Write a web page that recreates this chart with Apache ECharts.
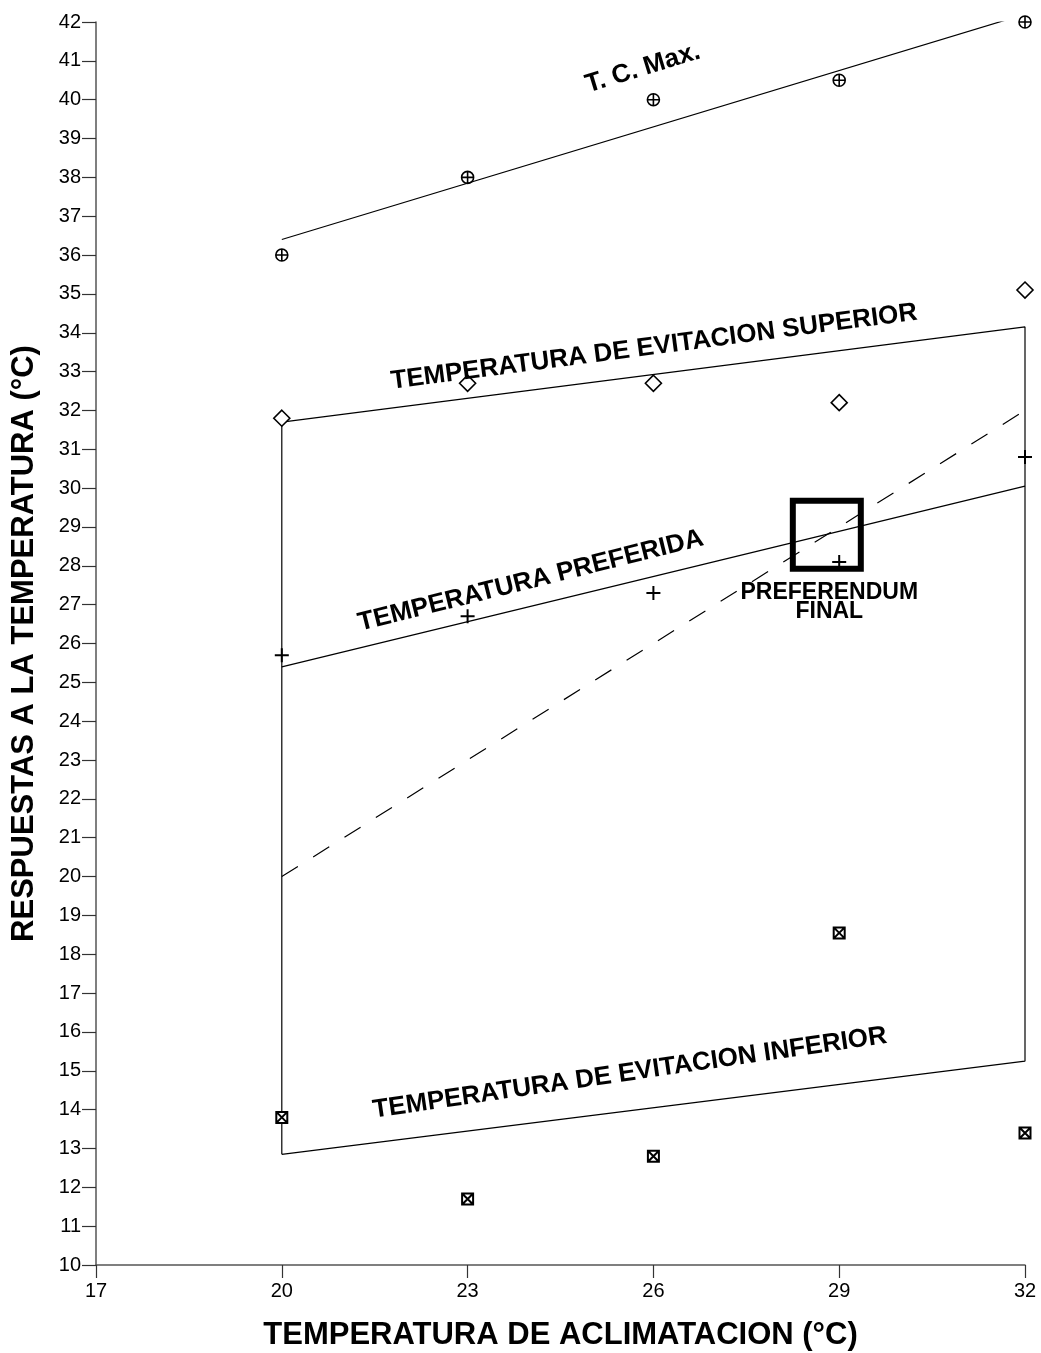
<!DOCTYPE html>
<html>
<head>
<meta charset="utf-8">
<script src="https://cdn.jsdelivr.net/npm/echarts@6/dist/echarts.min.js"></script>
<style>
html,body{margin:0;padding:0;background:#fff;}
#chart{width:1041px;height:1353px;}
</style>
</head>
<body>
<div id="chart"></div>
<script>
// ---- data ----
const acclimation = [20, 23, 26, 29, 32];
const tcMax       = [36, 38, 40, 40.5, 42];
const upperAvoid  = [31.8, 32.7, 32.7, 32.2, 35.1];
const preferred   = [25.7, 26.7, 27.3, 28.1, 30.8];
const lowerAvoid  = [13.8, 11.7, 12.8, 18.55, 13.4];

// fitted lines (endpoints)
const tcMaxLine   = [[20, 36.4], [32, 42.2]];
const prefLine    = [[20, 25.4], [32, 30.05]];
const zoneOutline = [[20, 12.85], [20, 31.7], [32, 34.15], [32, 15.25], [20, 12.85]];
const identityLine = [[20, 20], [32, 32]];
const finalPreferendum = [[28.8, 28.8]];

const xTicks = {min: 17, max: 32, interval: 3};
const yTicks = {min: 10, max: 42, interval: 1};

const FONT = "'Liberation Sans', Arial, Helvetica, sans-serif";

function pairs(ys){ return acclimation.map((x,i)=>[x, ys[i]]); }

const chart = echarts.init(document.getElementById('chart'));

const symCirclePlus = 'path://M0,-10A10,10,0,1,1,0,10A10,10,0,1,1,0,-10ZM-10,0L10,0M0,-10L0,10';
const symPlus = 'path://M-10,0L10,0M0,-10L0,10';
const symBoxX = 'path://M-10,-10L10,-10L10,10L-10,10ZM-10,-10L10,10M10,-10L-10,10';

const lineStyleBase = {color: '#000', width: 1.2};

chart.setOption({
  animation: false,
  backgroundColor: '#fff',
  grid: {left: 96, right: 16, top: 22, bottom: 88, containLabel: false, outerBoundsMode: 'none'},
  xAxis: {
    type: 'value', min: xTicks.min, max: xTicks.max, interval: xTicks.interval,
    name: 'TEMPERATURA DE ACLIMATACION (°C)', nameLocation: 'middle', nameGap: 55,
    nameTextStyle: {fontFamily: FONT, fontWeight: 'bold', fontSize: 31, color: '#000'},
    axisLine: {show: true, onZero: false, lineStyle: {color: '#555', width: 1.5}},
    axisTick: {show: true, inside: false, length: 13, lineStyle: {color: '#333', width: 1.2}},
    axisLabel: {margin: 16, fontFamily: FONT, fontSize: 20, color: '#000'},
    splitLine: {show: false}
  },
  yAxis: {
    type: 'value', min: yTicks.min, max: yTicks.max, interval: yTicks.interval,
    name: 'RESPUESTAS A LA TEMPERATURA (°C)', nameLocation: 'middle', nameGap: 56,
    nameTextStyle: {fontFamily: FONT, fontWeight: 'bold', fontSize: 31, color: '#000'},
    axisLine: {show: true, onZero: false, lineStyle: {color: '#555', width: 1.5}},
    axisTick: {show: true, inside: false, length: 14, lineStyle: {color: '#333', width: 1.2}},
    axisLabel: {margin: 15, fontFamily: FONT, fontSize: 20, color: '#000'},
    splitLine: {show: false}
  },
  series: [
    {type: 'line', data: zoneOutline, symbol: 'none', lineStyle: lineStyleBase, z: 2},
    {type: 'line', data: tcMaxLine, symbol: 'none', lineStyle: lineStyleBase, z: 2},
    {type: 'line', data: prefLine, symbol: 'none', lineStyle: lineStyleBase, z: 2},
    {type: 'line', data: identityLine, symbol: 'none', lineStyle: {color: '#000', width: 1.2, type: [19, 18]}, z: 2},
    {type: 'scatter', data: pairs(tcMax), symbol: symCirclePlus, symbolSize: 12,
      itemStyle: {color: 'rgba(0,0,0,0)', borderColor: '#000', borderWidth: 1.6, opacity: 1}, z: 5},
    {type: 'scatter', data: pairs(upperAvoid), symbol: 'diamond', symbolSize: 16,
      itemStyle: {color: '#fff', borderColor: '#000', borderWidth: 1.6, opacity: 1}, z: 5},
    {type: 'scatter', data: pairs(preferred), symbol: symPlus, symbolSize: 14,
      itemStyle: {color: 'rgba(0,0,0,0)', borderColor: '#000', borderWidth: 2, opacity: 1}, z: 5},
    {type: 'scatter', data: pairs(lowerAvoid), symbol: symBoxX, symbolSize: 11,
      itemStyle: {color: '#fff', borderColor: '#000', borderWidth: 2, opacity: 1}, z: 5},
    {type: 'scatter', data: finalPreferendum, symbol: 'rect', symbolSize: 68,
      itemStyle: {color: 'rgba(0,0,0,0)', borderColor: '#000', borderWidth: 6, opacity: 1}, z: 6}
  ]
});

// annotations placed in data coordinates
const annotations = [
  {text: 'T. C. Max.', at: [25.83, 40.81], rot: 17, size: 26},
  {text: 'TEMPERATURA DE EVITACION SUPERIOR', at: [26.01, 33.63], rot: 7.5, size: 26},
  {text: 'TEMPERATURA PREFERIDA', at: [24.02, 27.61], rot: 14, size: 26},
  {text: 'TEMPERATURA DE EVITACION INFERIOR', at: [25.62, 14.94], rot: 8.3, size: 26},
  {text: 'PREFERENDUM', at: [28.84, 27.32], rot: 0, size: 23},
  {text: 'FINAL', at: [28.84, 26.81], rot: 0, size: 23}
];

const graphics = annotations.map(a => {
  const p = chart.convertToPixel({gridIndex: 0}, a.at);
  return {
    type: 'text', x: p[0], y: p[1], rotation: a.rot * Math.PI / 180, z: 10,
    style: {text: a.text, fill: '#000', font: 'bold ' + a.size + 'px ' + FONT,
      align: 'center', verticalAlign: 'middle'}
  };
});
chart.setOption({graphic: graphics});
</script>
</body>
</html>
